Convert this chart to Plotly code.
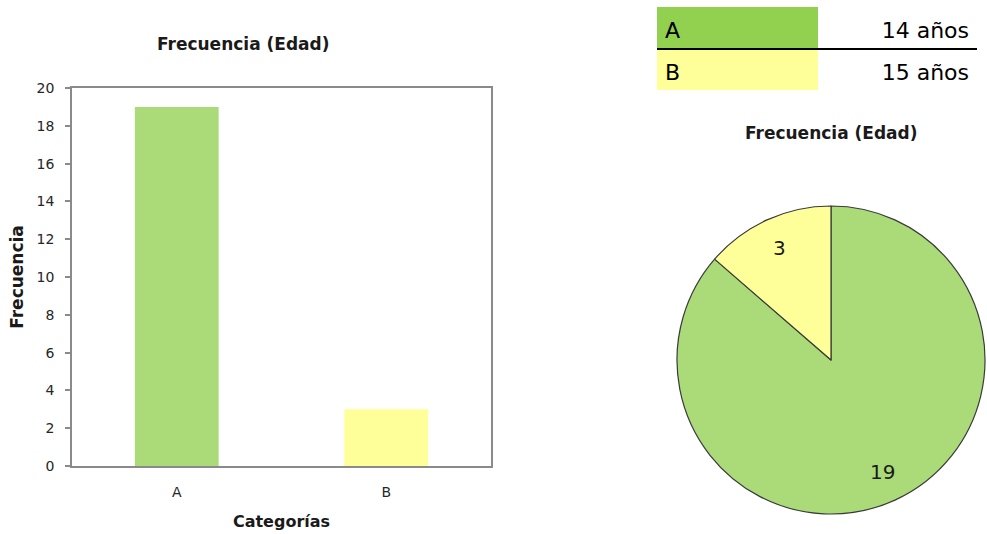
import math
import plotly.graph_objects as go

categories = ["A", "B"]
frequencies = [19, 3]
age_labels = ["14 años", "15 años"]
y_ticks = list(range(0, 21, 2))

W, H = 987, 534
bar_colors = ["#ABDB78", "#FFFF99"]
table_colors = ["#92D050", "#FFFF99"]
FONT = "DejaVu Sans, sans-serif"
TFONT = "DejaVu Sans, sans-serif"

def px(x):
    return x / W

def py(y):
    return 1 - y / H

fig = go.Figure()

fig.add_trace(go.Bar(
    x=categories, y=frequencies,
    marker=dict(color=bar_colors, line=dict(width=0)),
    width=0.4, showlegend=False, hoverinfo="x+y",
))

# pie placement
pie_cx, pie_cy, pie_r = 831, 360, 154
fig.add_trace(go.Pie(
    labels=categories, values=frequencies,
    marker=dict(colors=bar_colors, line=dict(color="#3a3a3a", width=1.2)),
    sort=False, direction="clockwise", rotation=0,
    textinfo="none", textposition="none",
    domain=dict(x=[px(pie_cx - pie_r), px(pie_cx + pie_r)],
                y=[py(pie_cy + pie_r), py(pie_cy - pie_r)]),
    showlegend=False,
))

# value labels placed at 80% radius along each slice's bisector
total = sum(frequencies)
cum = 0
for v in frequencies:
    mid = (cum + v / 2) / total * 2 * math.pi
    cum += v
    lx = pie_cx + 0.8 * pie_r * math.sin(mid)
    ly = pie_cy - 0.8 * pie_r * math.cos(mid)
    fig.add_annotation(text=str(v), x=px(lx), y=py(ly), xref="paper", yref="paper",
                       xanchor="center", yanchor="middle",
                       showarrow=False, font=dict(size=20, color="#1a1a1a", family=FONT))

# key table: coloured cell backgrounds, then the table text on top
tbl_x0, tbl_x1, col_split = 657, 977, 818
row_edges = [(7, 48), (50, 90)]
for (y0, y1), c in zip(row_edges, table_colors):
    fig.add_shape(type="rect", xref="paper", yref="paper", layer="below",
                  x0=px(tbl_x0), x1=px(col_split), y0=py(y1), y1=py(y0),
                  fillcolor=c, line=dict(width=0))

fig.add_trace(go.Table(
    domain=dict(x=[px(tbl_x0), px(tbl_x1)], y=[py(96), py(13)]),
    columnwidth=[161, 159],
    header=dict(
        values=[categories[0], age_labels[0]],
        fill_color="rgba(0,0,0,0)",
        line=dict(color="rgba(0,0,0,0)", width=0),
        align=["left", "right"],
        font=dict(size=22, color="black", family=TFONT),
        height=42,
    ),
    cells=dict(
        values=[[categories[1]], [age_labels[1]]],
        fill_color="rgba(0,0,0,0)",
        line=dict(color="rgba(0,0,0,0)", width=0),
        align=["left", "right"],
        font=dict(size=22, color="black", family=TFONT),
        height=41,
    ),
))

fig.add_shape(type="line", xref="paper", yref="paper",
              x0=px(tbl_x0), x1=px(tbl_x1), y0=py(49), y1=py(49),
              line=dict(color="black", width=2))

fig.add_annotation(text="<b>Frecuencia (Edad)</b>", x=px(243), y=py(44),
                   xref="paper", yref="paper", showarrow=False,
                   xanchor="center", yanchor="middle",
                   font=dict(size=17, color="#1a1a1a", family=FONT))
fig.add_annotation(text="<b>Frecuencia (Edad)</b>", x=px(831), y=py(133),
                   xref="paper", yref="paper", showarrow=False,
                   xanchor="center", yanchor="middle",
                   font=dict(size=17, color="#1a1a1a", family=FONT))

fig.update_layout(
    template="none",
    width=W, height=H,
    margin=dict(l=0, r=0, t=0, b=0, autoexpand=False),
    paper_bgcolor="white", plot_bgcolor="white",
    font=dict(family=FONT, color="#333333"),
    xaxis=dict(
        domain=[px(72), px(491)], automargin=False,
        showline=True, linecolor="#8a8a8a", linewidth=1.5, mirror=True,
        ticks="", ticklabelstandoff=12, tickfont=dict(size=14, color="#262626"),
        title=dict(text="<b>Categorías</b>", font=dict(size=16, color="#1a1a1a"), standoff=17),
        showgrid=False, zeroline=False, fixedrange=True,
    ),
    yaxis=dict(
        domain=[py(466), py(88)], automargin=False,
        range=[0, 20], tickvals=y_ticks,
        showline=True, linecolor="#8a8a8a", linewidth=1.5, mirror=True,
        ticks="outside", ticklen=5, tickcolor="#8a8a8a", tickwidth=1.5,
        ticklabelstandoff=8,
        tickfont=dict(size=14, color="#262626"),
        title=dict(text="<b>Frecuencia</b>", font=dict(size=17, color="#1a1a1a"), standoff=9),
        showgrid=False, zeroline=False, fixedrange=True,
    ),
)

fig.write_html("out.html",
               config={"displayModeBar": False},
               post_script="document.body.style.margin='0px';document.body.style.overflow='hidden';")
